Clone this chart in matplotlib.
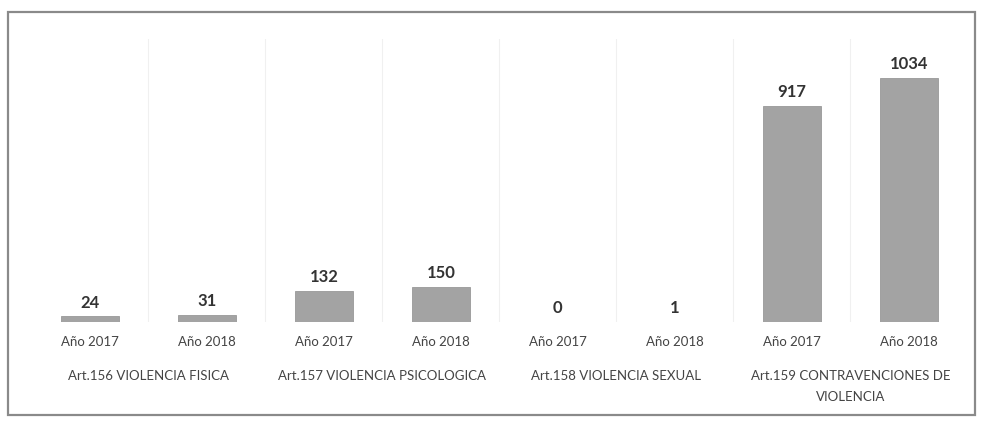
import numpy as np
import matplotlib.pyplot as plt
from matplotlib.patches import Rectangle
from matplotlib.transforms import blended_transform_factory

years = ['Año 2017', 'Año 2018', 'Año 2017', 'Año 2018',
         'Año 2017', 'Año 2018', 'Año 2017', 'Año 2018']
values = [24, 31, 132, 150, 0, 1, 917, 1034]
groups = ['Art.156 VIOLENCIA FISICA', 'Art.157 VIOLENCIA PSICOLOGICA',
          'Art.158 VIOLENCIA SEXUAL', 'Art.159 CONTRAVENCIONES DE\nVIOLENCIA']

plt.rcParams['font.family'] = ['Lato', 'DejaVu Sans']

fig = plt.figure(figsize=(9.85, 4.21), dpi=100)
fig.patch.set_facecolor('white')

# outer frame like the scanned chart box
fig.patches.append(Rectangle((8 / 985, 6 / 421), 967 / 985, 403 / 421,
                             transform=fig.transFigure, fill=False,
                             edgecolor='#8a8a8a', linewidth=1.6))

ax = fig.add_axes([0.032, 0.235, 0.950, 0.672])
x = np.arange(len(values))
ax.bar(x, values, width=0.5, color='#a3a3a3', edgecolor='#999999', linewidth=0.6)
ax.set_xlim(-0.5, len(values) - 0.5)
ax.set_ylim(0, 1200)

# faint separators between categories
for b in np.arange(0.5, len(values) - 0.5, 1.0):
    ax.axvline(b, color='#f0f0f0', linewidth=0.8, zorder=0)

for xi, v in zip(x, values):
    ax.text(xi, v + 25, str(v), ha='center', va='bottom',
            fontsize=12, fontweight='bold', color='#333333')

for s in ax.spines.values():
    s.set_visible(False)
ax.set_yticks([])
ax.set_xticks(x)
ax.set_xticklabels(years, fontsize=9.5, color='#444444')
ax.tick_params(axis='x', length=0, pad=10)

tr = blended_transform_factory(ax.transData, ax.transAxes)
for i, g in enumerate(groups):
    ax.text(2 * i + 0.5, -0.17, g, transform=tr, ha='center', va='top',
            fontsize=9.5, color='#444444', linespacing=1.85)

fig.savefig('out.png', dpi=100)
